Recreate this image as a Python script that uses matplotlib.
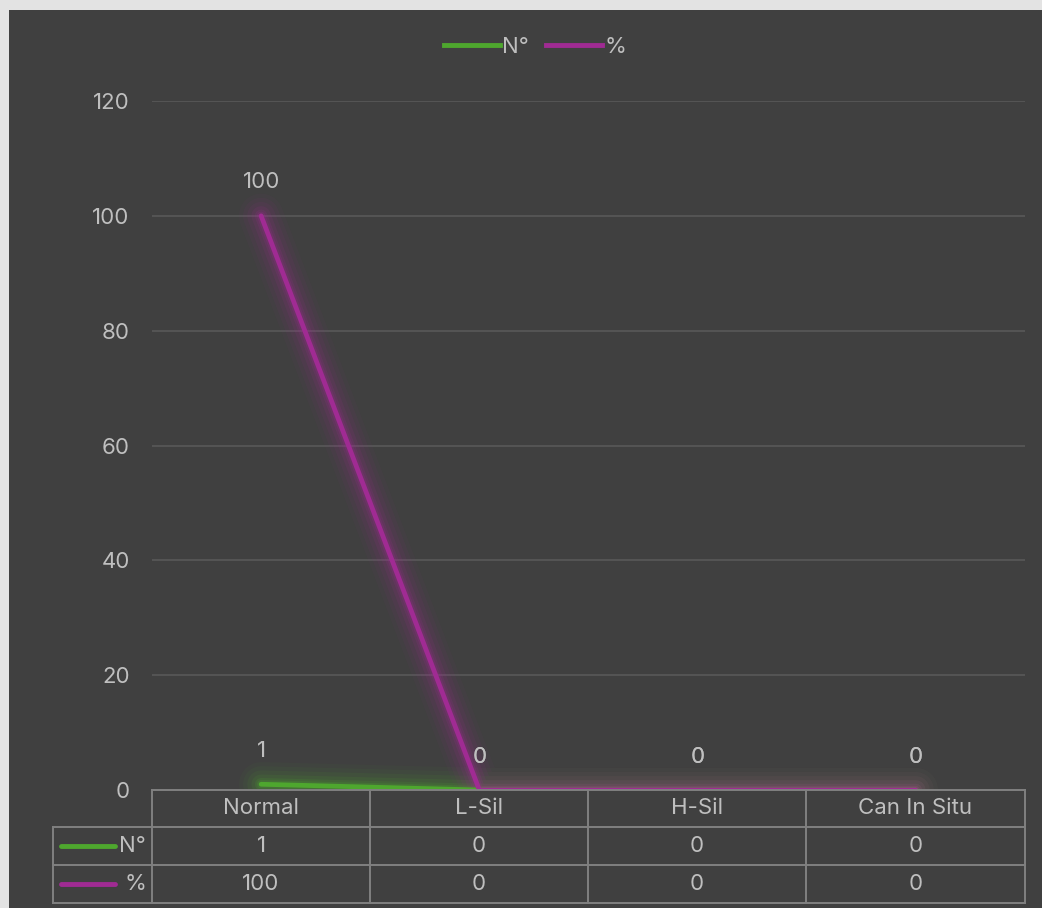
import matplotlib
matplotlib.use("Agg")
import matplotlib.pyplot as plt
from matplotlib.lines import Line2D
from matplotlib.patches import Rectangle

categories = ["Normal", "L-Sil", "H-Sil", "Can In Situ"]
series_names = ["N°", "%"]
count_values = [1, 0, 0, 0]
percent_values = [100, 0, 0, 0]
y_ticks = [0, 20, 40, 60, 80, 100, 120]

GREEN = "#4ea72e"
PURPLE = "#a02b93"
BG = "#404040"
TEXT = "#bfbfbf"
GRID = "#595959"
TABLE_LINE = "#808080"
FS = 16

W, H = 1042, 908
plt.rcParams["font.family"] = ["Inter", "DejaVu Sans"]

fig = plt.figure(figsize=(W / 100, H / 100), dpi=100)
fig.patch.set_facecolor("#e3e3e3")


def fx(px):
    return px / W


def fy(py):
    return 1 - py / H


# dark chart area inside the light frame
fig.add_artist(Rectangle((fx(9), 0), 1 - fx(9), fy(10), transform=fig.transFigure,
                         facecolor=BG, edgecolor="none", zorder=0))

left, right, top, bottom = 152, 1025, 101, 790
ax = fig.add_axes([fx(left), fy(bottom), fx(right - left), (bottom - top) / H])
ax.set_facecolor("none")
ax.set_xlim(-0.5, len(categories) - 0.5)
ax.set_ylim(0, 120)
ax.set_yticks(y_ticks)
ax.set_yticklabels([str(t) for t in y_ticks])
ax.tick_params(axis="y", length=0, pad=16, labelsize=FS, labelcolor=TEXT)
ax.set_xticks([])
for s in ax.spines.values():
    s.set_visible(False)
for t in y_ticks[1:]:
    ax.axhline(t, color=GRID, lw=1.2, zorder=1)

x = list(range(len(categories)))


def glow_line(values, color):
    for lw, a in [(32, 0.04), (26, 0.06), (20, 0.08), (14, 0.11), (9, 0.15), (6, 0.2)]:
        ax.plot(x, values, color=color, lw=lw, alpha=a, solid_capstyle="round",
                solid_joinstyle="round", zorder=2)
    ax.plot(x, values, color=color, lw=3.4, solid_capstyle="round",
            solid_joinstyle="round", zorder=3)


glow_line(count_values, GREEN)
glow_line(percent_values, PURPLE)

for vals in (count_values, percent_values):
    for xi, v in zip(x, vals):
        ax.annotate(str(v), (xi, v), xytext=(0, 24), textcoords="offset points",
                    ha="center", va="center", fontsize=FS, color=TEXT, zorder=4)

# legend at the top
leg_handles = [Line2D([0], [0], color=GREEN, lw=3.5), Line2D([0], [0], color=PURPLE, lw=3.5)]
fig.legend(leg_handles, series_names, loc="center", bbox_to_anchor=(fx(535), fy(47)),
           ncol=2, frameon=False, fontsize=FS, labelcolor=TEXT, handlelength=2.5,
           handletextpad=0.1, columnspacing=0.8)

# data table under the plot
col_edges = [152, 370, 588, 806, 1025]
row_edges = [790, 827, 865, 903]
table_left = 53


def hline(y, x0, x1):
    fig.add_artist(Line2D([fx(x0), fx(x1)], [fy(y), fy(y)], transform=fig.transFigure,
                          color=TABLE_LINE, lw=1.4, zorder=5))


def vline(xp, y0, y1):
    fig.add_artist(Line2D([fx(xp), fx(xp)], [fy(y0), fy(y1)], transform=fig.transFigure,
                          color=TABLE_LINE, lw=1.4, zorder=5))


hline(row_edges[0], col_edges[0], col_edges[-1])
for r in row_edges[1:]:
    hline(r, table_left, col_edges[-1])
for c in col_edges:
    vline(c, row_edges[0], row_edges[-1])
vline(table_left, row_edges[1], row_edges[-1])

for i, cat in enumerate(categories):
    cx = (col_edges[i] + col_edges[i + 1]) / 2
    fig.text(fx(cx), fy((row_edges[0] + row_edges[1]) / 2), cat, ha="center", va="center",
             fontsize=FS, color=TEXT)
    for r, vals in enumerate((count_values, percent_values)):
        cy = (row_edges[r + 1] + row_edges[r + 2]) / 2
        fig.text(fx(cx), fy(cy), str(vals[i]), ha="center", va="center",
                 fontsize=FS, color=TEXT)

for r, (name, color) in enumerate(zip(series_names, (GREEN, PURPLE))):
    cy = (row_edges[r + 1] + row_edges[r + 2]) / 2
    fig.add_artist(Line2D([fx(61), fx(115)], [fy(cy), fy(cy)], transform=fig.transFigure,
                          color=color, lw=3.5, solid_capstyle="round", zorder=6))
    fig.text(fx(146), fy(cy), name, ha="right", va="center", fontsize=FS, color=TEXT)

fig.savefig("out.png", dpi=100, facecolor=fig.get_facecolor())
